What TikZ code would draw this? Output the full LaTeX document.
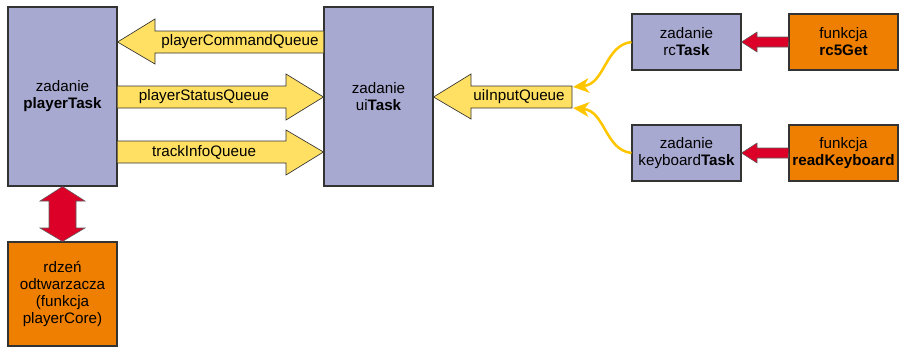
\documentclass[tikz,border=0pt]{standalone}
\usepackage{fontspec}
\setmainfont{Liberation Sans}
\usetikzlibrary{arrows.meta,positioning}
\definecolor{taskblue}{RGB}{168,169,209}
\definecolor{funcorange}{RGB}{239,127,0}
\definecolor{queueyellow}{RGB}{255,224,98}
\definecolor{callred}{RGB}{220,0,40}
\definecolor{feedgold}{RGB}{255,198,0}
\definecolor{edgegray}{RGB}{51,51,51}
\begin{document}
\begin{tikzpicture}[x=0.75pt,y=-0.75pt,line join=miter,
  font=\fontsize{11.4}{12.8}\selectfont,
  task/.style={rectangle,draw=edgegray,fill=taskblue,line width=.8pt,align=center,inner sep=0pt,minimum width=81.75pt,minimum height=42pt},
  func/.style={task,fill=funcorange},
  queue/.style={draw=edgegray,fill=queueyellow,line width=.5pt},
  call/.style={draw=edgegray!80,fill=callred,line width=.4pt},
  feed/.style={draw=feedgold,line width=1.9pt,-{Stealth[length=12pt,width=11pt,inset=3.5pt]}},
  qlabel/.style={inner sep=0pt}]
\path[use as bounding box] (0,0) rectangle (902,347);
% zadania i funkcje
\node[task,minimum height=134.25pt] (playerTask) at (62.5,96.5) {zadanie\\\textbf{playerTask}};
\node[task,minimum height=134.25pt] (uiTask) at (378.5,96.5) {zadanie\\ui\textbf{Task}};
\node[task] (rcTask) at (686.5,42) {zadanie\\rc\textbf{Task}};
\node[task] (keyboardTask) at (686.5,153) {zadanie\\keyboard\textbf{Task}};
\node[func] (rcGet) at (843.5,42) {funkcja\\\textbf{rc5Get}};
\node[func] (readKeyboard) at (843.5,153) {funkcja\\\textbf{readKeyboard}};
\node[func,minimum height=78pt] (playerCore) at (62.5,294) {rdzeń\\odtwarzacza\\(funkcja\\playerCore)};
% kolejki
\filldraw[queue] (uiTask.west |- 0,31) -- (155,31) -- (155,19) -- (playerTask.east |- 0,42) -- (155,64) -- (155,53) -- (uiTask.west |- 0,53);
\node[qlabel] (commandQueue) at (240,42) {playerCommandQueue};
\filldraw[queue] (playerTask.east |- 0,86) -- (286,86) -- (286,74) -- (uiTask.west |- 0,97) -- (286,120) -- (286,108) -- (playerTask.east |- 0,108);
\node[qlabel] (statusQueue) at (204,97) {playerStatusQueue};
\filldraw[queue] (playerTask.east |- 0,141) -- (286,141) -- (286,130) -- (uiTask.west |- 0,152) -- (286,175) -- (286,163) -- (playerTask.east |- 0,163);
\node[qlabel] (infoQueue) at (204,152) {trackInfoQueue};
\filldraw[queue] (572,86) -- (471,86) -- (471,74) -- (uiTask.east |- 0,97) -- (471,119) -- (471,108) -- (572,108) -- cycle;
\node[qlabel] (inputQueue) at (519,97) {uiInputQueue};
\coordinate (inputTop) at (573,87);
\coordinate (inputBottom) at (573,108);
\draw[feed] (rcTask.west) .. controls (605,45) and (605,84) .. (inputTop);
\draw[feed] (keyboardTask.west) .. controls (605,150) and (605,111) .. (inputBottom);
% wywolania
\filldraw[call] (rcGet.west) -- ++(0,5) -- (757,47) -- (757,52) -- (rcTask.east) -- (757,32) -- (757,37) -- (rcGet.west |- 0,37);
\filldraw[call] (readKeyboard.west) -- ++(0,5) -- (757,158) -- (757,163) -- (keyboardTask.east) -- (757,143) -- (757,148) -- (readKeyboard.west |- 0,148);
\filldraw[call] (playerTask.south) -- (85,201) -- (76,201) -- (76,228) -- (85,228) -- (playerCore.north) -- (40,228) -- (49,228) -- (49,201) -- (40,201) -- cycle;
\end{tikzpicture}
\end{document}
